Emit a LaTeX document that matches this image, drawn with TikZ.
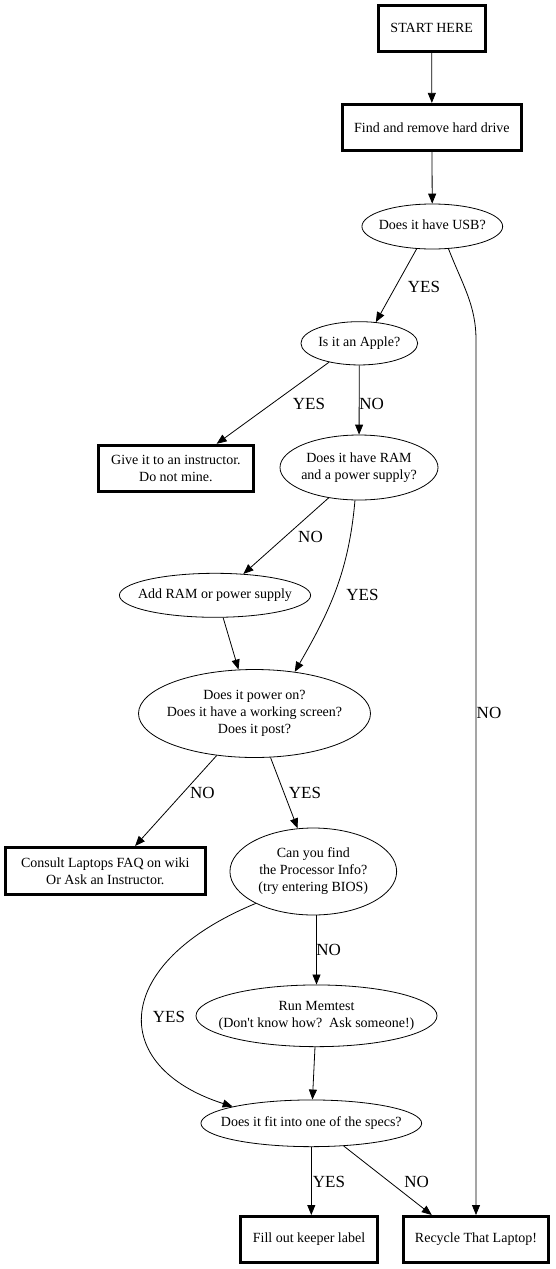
\documentclass[tikz,border=0pt]{standalone}
\usepackage{fontspec}
\setmainfont{Liberation Serif}
\usetikzlibrary{arrows.meta,shapes.geometric}
\newcommand{\qtext}[1]{\makebox[0pt]{\begin{tabular}{@{}c@{}}#1\end{tabular}}}

\begin{document}
\begin{tikzpicture}[
  x=1pt, y=1pt,
  every node/.style={font=\fontsize{14}{17}\selectfont},
  actbox/.style={draw, line width=3pt, align=center, minimum height=46pt},
  question/.style={draw, ellipse, line width=0.8pt, inner sep=0pt},
  lbl/.style={font=\fontsize{17}{20}\selectfont, inner sep=0pt},
  line width=0.8pt,
  >={Triangle[length=10pt,width=8pt]}
]
\useasboundingbox (0,0) rectangle (555,-1269);

\node[actbox, minimum width=107pt, minimum height=45.7pt] (start) at (431.7,-28.3) {START HERE};
\node[actbox, minimum width=178.7pt] (find) at (431.9,-127.4) {Find and remove hard drive};
\node[question, minimum width=140.7pt, minimum height=45pt] (usb) at (432.3,-226.5) {\qtext{Does it have USB?}};
\node[question, minimum width=116.7pt, minimum height=43.3pt] (apple) at (359.3,-343.3) {\qtext{Is it an Apple?}};
\node[actbox, minimum width=155.3pt] (give) at (175.9,-468.3) {Give it to an instructor.\\Do not mine.};
\node[question, minimum width=158pt, minimum height=65pt] (ram) at (359,-467.5) {\qtext{Does it have RAM\\and a power supply?}};
\node[question, minimum width=191.2pt, minimum height=44pt] (add) at (215,-595.3) {\qtext{Add RAM or power supply}};
\node[question, minimum width=232pt, minimum height=88pt] (power) at (254.5,-713.5) {\qtext{Does it power on?\\Does it have a working screen?\\Does it post?}};
\node[actbox, minimum width=199.7pt, minimum height=47pt] (consult) at (105.3,-871) {Consult Laptops FAQ on wiki\\Or Ask an Instructor.};
\node[question, minimum width=166.7pt, minimum height=87pt] (cpu) at (313.3,-871.5) {\qtext{Can you find\\the Processor Info?\\(try entering BIOS)}};
\node[question, minimum width=241pt, minimum height=61.7pt] (memtest) at (316.5,-1015.8) {\qtext{Run Memtest\\(Don\textquotesingle t know how?\ \ Ask someone!)}};
\node[question, minimum width=220.7pt, minimum height=46.7pt] (specs) at (311.3,-1123.3) {\qtext{Does it fit into one of the specs?}};
\node[actbox, minimum width=137pt] (keeper) at (309,-1239.5) {Fill out keeper label};
\node[actbox, minimum width=145pt] (recycle) at (476,-1239.5) {Recycle That Laptop!};

\draw[->] (start) -- (find);
\draw[->] (find) -- (usb);
\draw[->] (usb.-125) -- (apple.52);
\draw[->] (usb.-54) .. controls +(14,-36) and +(0,35) .. (recycle.north |- 0,-340) -- (recycle.north);
\draw[->] (apple.-148) -- (give.31);
\draw[->] (apple) -- (ram);
\draw[->] (ram.-135) -- (add.37);
\draw[->] (ram.-97) to[out=-95,in=60] (power.46);
\draw[->] (add.-70) -- (power.110);
\draw[->] (power.-132) -- (consult.40);
\draw[->] (power.-70) -- (cpu.110);
\draw[->] (cpu.south -| memtest.north) -- (memtest.north);
\draw[->] (cpu.-151) .. controls +(-145,-60) and +(-125,40) .. (specs.168);
\draw[->] (memtest) -- (specs);
\draw[->] (specs.south) -- (specs.south |- keeper.north);
\draw[->] (specs.-35) -- (recycle.151);

\node[lbl] (yes1) at (424,-286.7) {YES};
\node[lbl] (no1) at (489,-713.3) {NO};
\node[lbl] (yes2) at (309,-404) {YES};
\node[lbl] (no2) at (371.7,-404) {NO};
\node[lbl] (no3) at (310.5,-537) {NO};
\node[lbl] (yes3) at (362.5,-595) {YES};
\node[lbl] (no4) at (202.5,-793) {NO};
\node[lbl] (yes4) at (305,-793) {YES};
\node[lbl] (no5) at (328.7,-950) {NO};
\node[lbl] (yes5) at (169,-1016.7) {YES};
\node[lbl] (yes6) at (329,-1182) {YES};
\node[lbl] (no6) at (416.7,-1182) {NO};
\end{tikzpicture}
\end{document}
